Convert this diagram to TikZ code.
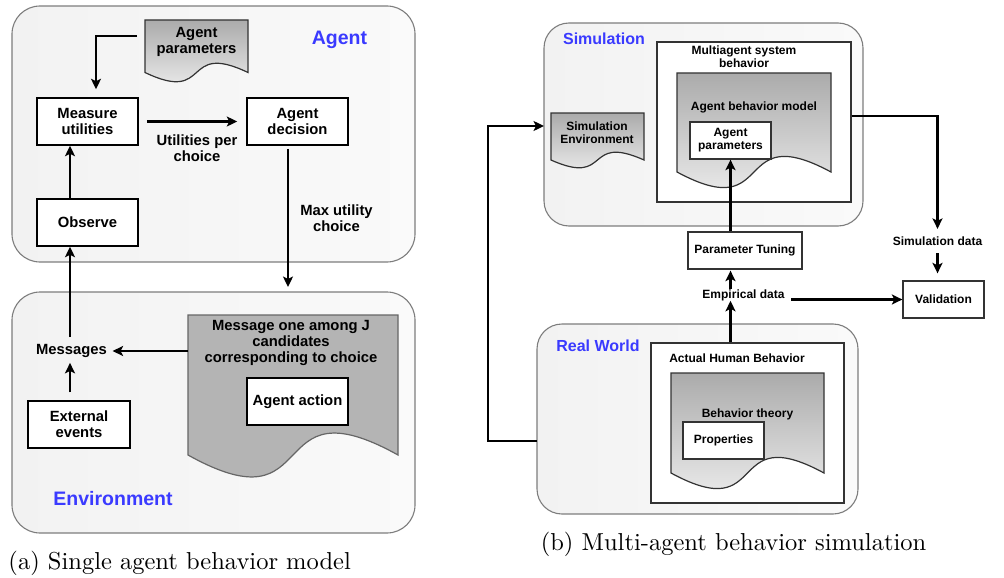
\documentclass[tikz,border=0pt]{standalone}
\usepackage{fontspec}
\setsansfont{Liberation Sans}
\usetikzlibrary{arrows.meta,calc}
\pgfdeclarelayer{back}\pgfdeclarelayer{docl}
\pgfsetlayers{back,docl,main}
\definecolor{lblue}{RGB}{58,58,255}
\definecolor{grpA}{RGB}{242,242,242}
\definecolor{grpB}{RGB}{250,250,250}
\definecolor{grpline}{RGB}{125,125,125}
\definecolor{msgfill}{RGB}{180,180,180}
\newcommand\docpath[3]{%
  \path[#3] let \p1=(#1.south west), \p2=(#1.north east), \n1={\x2-\x1} in
    (\x1,\y2) -- (\x2,\y2) -- (\x2,\y1)
    .. controls (\x2-0.65*\n1,\y1+#2) and (\x1+0.65*\n1,\y1-#2) .. (\x1,\y1) -- cycle;}
\begin{document}
\begin{tikzpicture}[x=1pt,y=-1pt,
  grp/.style={draw=grpline, line width=1.1pt, left color=grpA, right color=grpB,
    rounded corners=28pt, inner sep=0pt, outer sep=0pt},
  fL/.style={font=\fontsize{14.8}{16}\selectfont\sffamily\bfseries},
  fR/.style={font=\fontsize{12}{12.8}\selectfont\sffamily\bfseries},
  boxL/.style={fL, draw=black, line width=1.5pt, fill=white, align=center, inner sep=0pt},
  boxR/.style={fR, draw=black!80, line width=1.3pt, fill=white, align=center, inner sep=0pt},
  contR/.style={draw=black!80, line width=1.3pt, fill=white, inner sep=0pt},
  txtL/.style={fL, align=center, inner sep=0pt},
  txtR/.style={fR, align=center, inner sep=0pt},
  lblL/.style={text=lblue, inner sep=0pt, font=\fontsize{19.5}{20}\selectfont\sffamily\bfseries},
  lblR/.style={text=lblue, inner sep=0pt, font=\fontsize{16}{17}\selectfont\sffamily\bfseries},
  docbody/.style={rectangle, inner sep=0pt, outer sep=0pt, align=center},
  docshade/.style={draw=black!80, line width=1.2pt, top color=black!33, bottom color=black!2},
  docsolid/.style={draw=black!60, line width=1.2pt, fill=msgfill},
  arr/.style={draw=black, line width=2.2pt, -{Stealth[length=10.5pt,width=10pt,inset=2.5pt]}},
  capt/.style={inner sep=0pt, font=\fontsize{10}{12}\selectfont\rmfamily\mdseries, scale=2.45, transform shape}
]
\useasboundingbox (0,0) rectangle (1004,578);

% ---------- group boxes and containers ----------
\begin{pgfonlayer}{back}
  \node[grp, minimum width=403, minimum height=256] (agent) at (213.5,134) {};
  \node[grp, minimum width=403, minimum height=241] (env) at (213.5,412.5) {};
  \node[grp, rounded corners=25pt, minimum width=319, minimum height=203] (sim) at (703.5,124.5) {};
  \node[grp, rounded corners=25pt, minimum width=321, minimum height=190] (rw) at (697.5,419) {};
  \node[contR, minimum width=194, minimum height=160] (mas) at (754,122) {};
  \node[contR, minimum width=193, minimum height=160] (ahb) at (747.5,423) {};
\end{pgfonlayer}

% ---------- (a) single agent ----------
\node[lblL] (agentlbl) at (339.5,40) {Agent};
\node[docbody, minimum width=103, minimum height=52.5] (apdoc) at (196.5,46.25) {};
\begin{pgfonlayer}{docl}\docpath{apdoc}{32pt}{docshade}\end{pgfonlayer}
\node[txtL] (aptxt) at (196.5,42) {Agent\\parameters};

\node[boxL, minimum width=101, minimum height=47] (mu) at (87.5,121.5) {Measure\\utilities};
\node[boxL, minimum width=101, minimum height=47] (ad) at (297.5,121.5) {Agent\\decision};
\node[boxL, minimum width=101, minimum height=47] (obs) at (87.5,222.5) {Observe};
\node[txtL] (upc) at (197,148.5) {Utilities per\\choice};
\node[txtL] (maxu) at (336.5,218.5) {Max utility\\choice};

\node[lblL] (envlbl) at (113,499) {Environment};
\node[docbody, minimum width=210, minimum height=140] (msgdoc) at (293,385) {};
\begin{pgfonlayer}{docl}\docpath{msgdoc}{76pt}{docsolid}\end{pgfonlayer}
\node[txtL] (msgtxt) at (291,343) {Message one among J\\candidates\\corresponding to choice};
\node[boxL, minimum width=101, minimum height=47] (act) at (297.5,401.5) {Agent action};
\node[txtL] (msgs) at (71.5,351) {Messages};
\node[boxL, minimum width=102, minimum height=47] (ext) at (79,424.5) {External\\events};

\draw[arr, shorten >=8pt] ([xshift=-8pt,yshift=10pt]apdoc.west) -| ([xshift=8.5pt]mu.north);
\draw[arr, shorten <=8pt, shorten >=9pt] (mu) -- (ad);
\draw[arr] ([xshift=-17.5pt]obs.north) -- ([xshift=-17.5pt]mu.south);
\draw[arr, shorten <=3pt, shorten >=5pt] ([xshift=-9.5pt]ad.south) -- ([xshift=-9.5pt]ad.south |- env.north);
\draw[arr, shorten >=5.5pt] (msgdoc.west |- msgs) -- (msgs.east);
\draw[arr, shorten <=7pt] ([xshift=-1.5pt]msgs.north) -- ([xshift=-1.5pt]msgs.north |- obs.south);
\draw[arr, shorten <=8pt, shorten >=5pt] ([xshift=-1.5pt]msgs.south |- ext.north) -- ([xshift=-1.5pt]msgs.south);

\node[capt, anchor=base west] (capa) at (8,569) {(a) Single agent behavior model};

% ---------- (b) multi-agent ----------
\node[lblR] (simlbl) at (604,39) {Simulation};
\node[txtR] (mastxt) at (744,57) {Multiagent system\\behavior};
\node[docbody, minimum width=154, minimum height=99] (abm) at (754,122.5) {};
\begin{pgfonlayer}{docl}\docpath{abm}{54pt}{docshade}\end{pgfonlayer}
\node[txtR] (abmtxt) at (754,107) {Agent behavior model};
\node[boxR, minimum width=81, minimum height=37] (ap2) at (730.5,140.5) {Agent\\parameters};
\node[docbody, minimum width=93, minimum height=47] (simenv) at (597.5,136.5) {};
\begin{pgfonlayer}{docl}\docpath{simenv}{27pt}{docshade}\end{pgfonlayer}
\node[txtR] (simenvtxt) at (597,132.5) {Simulation\\Environment};

\node[boxR, minimum width=114, minimum height=37] (pt) at (745,250.5) {Parameter Tuning};
\node[txtR, inner ysep=7pt] (simdata) at (937.5,241.5) {Simulation data};
\node[boxR, minimum width=81, minimum height=37] (val) at (943.5,299.5) {Validation};
\node[txtR] (emp) at (743.5,295) {Empirical data};

\node[lblR] (rwlbl) at (598,346) {Real World};
\node[txtR] (ahbtxt) at (737,358) {Actual Human Behavior};
\node[docbody, minimum width=153, minimum height=100] (bt) at (747.5,423) {};
\begin{pgfonlayer}{docl}\docpath{bt}{54pt}{docshade}\end{pgfonlayer}
\node[txtR] (bttxt) at (747.5,414) {Behavior theory};
\node[boxR, minimum width=81, minimum height=37] (props) at (723.5,440.5) {Properties};

\coordinate (simin) at ($(simenv.west)+(0,10.5pt)$);
\draw[arr] ([yshift=-22pt]rw.west) -- ++(-49,0) |- (sim.west |- simin);
\draw[arr, shorten >=1pt] ([yshift=6pt]mas.east) -| (simdata.north);
\draw[arr, shorten >=7pt] (simdata.south) -- (simdata.south |- val.north);
\draw[arr] (pt.north -| ap2.south) -- (ap2.south);
\draw[arr, shorten >=1pt] (emp.north -| ap2.south) -- (pt.south -| ap2.south);
\draw[arr] (ahb.north -| ap2.south) -- (emp.south -| ap2.south);
\draw[arr, shorten <=6.5pt] (emp.east |- val.west) -- (val.west);

\node[capt, anchor=base] (capb) at (733.5,550) {(b) Multi-agent behavior simulation};
\end{tikzpicture}
\end{document}
